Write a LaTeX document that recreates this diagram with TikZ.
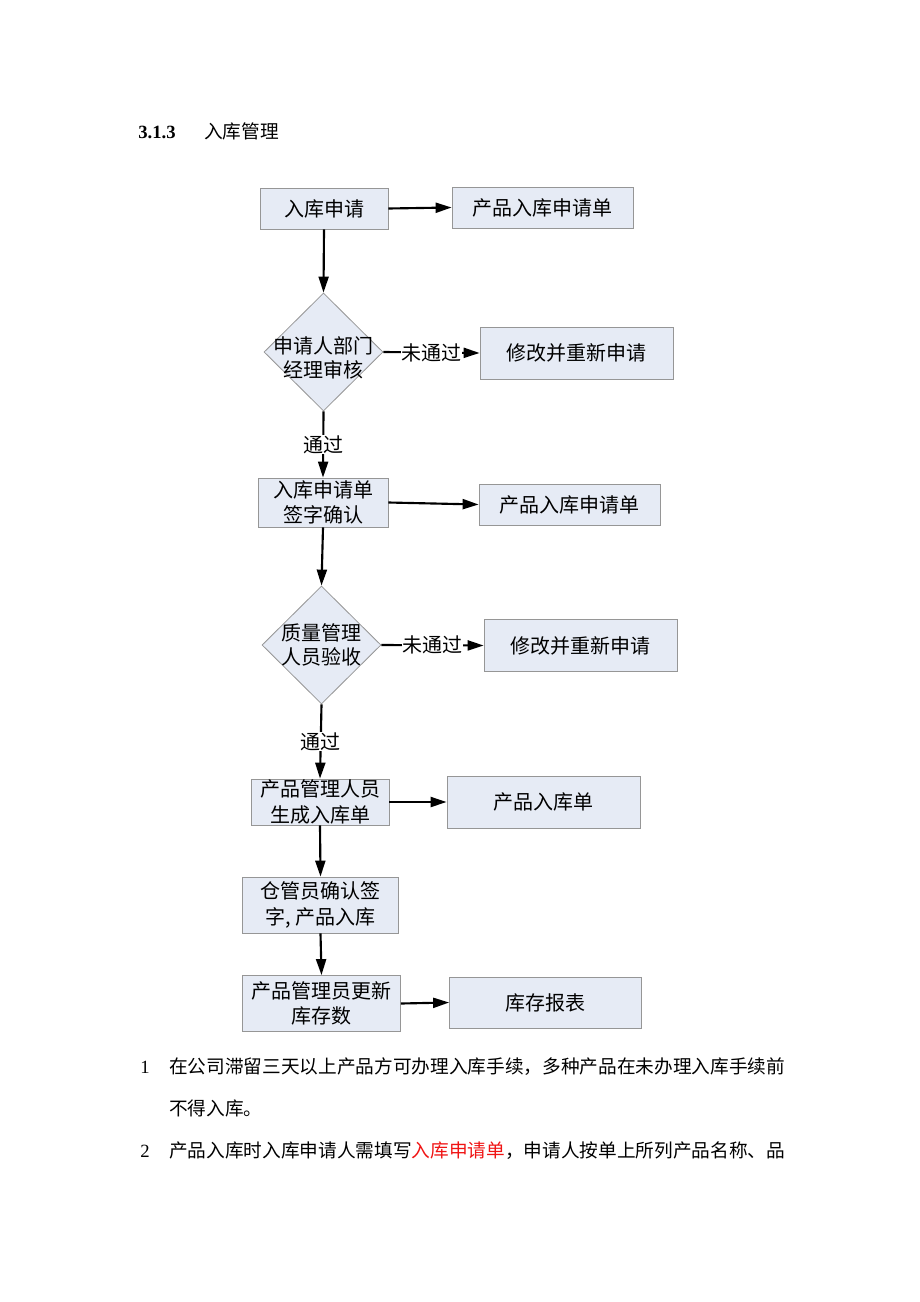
\documentclass[tikz,border=0pt]{standalone}
\usepackage{fontspec}
\setmainfont{Noto Sans CJK SC}
\newfontfamily\serifnum{Liberation Serif}
\usetikzlibrary{shapes.geometric,arrows.meta}
\definecolor{boxfill}{RGB}{230,235,245}
\definecolor{boxline}{RGB}{150,150,150}
\definecolor{redtxt}{RGB}{240,20,20}
\begin{document}
\begin{tikzpicture}[x=0.75pt,y=-0.75pt,
 box/.style={draw=boxline, fill=boxfill, line width=0.6pt, inner sep=0pt, align=center, font=\fontsize{15pt}{19pt}\selectfont},
 dia/.style={diamond, draw=boxline, fill=boxfill, line width=0.6pt, inner sep=0pt, minimum width=89.25pt, minimum height=88.5pt},
 dtext/.style={inner sep=0pt, align=center, font=\fontsize{15pt}{18pt}\selectfont},
 arr/.style={line width=1.6pt, -{Triangle[length=12pt,width=7.5pt]}},
 lbl/.style={fill=white, inner sep=0.5pt, font=\fontsize{15pt}{19pt}\selectfont},
 txt/.style={anchor=base west, inner sep=0pt, font=\fontsize{14pt}{17pt}\selectfont}
]
\useasboundingbox[fill=white] (0,0) rectangle (920,1302);

% heading
\node[txt] (hnum) at (138,138.5) {\serifnum\bfseries 3.1.3};
\node[txt] (htxt) at (204,138.5) {入库管理};

% boxes
\node[box, minimum width=96pt, minimum height=30.75pt] (b1) at (324,208.5) {入库申请};
\node[box, minimum width=135.75pt, minimum height=30.75pt] (o1) at (542.5,207.5) {产品入库申请单};
\node[dia] (d1) at (323.5,352) {};
\node[dtext] (d1t) at (323.5,358) {申请人部门\\经理审核};
\node[box, minimum width=144.75pt, minimum height=39pt] (r1) at (576.5,353) {修改并重新申请};
\node[box, minimum width=97.5pt, minimum height=36.75pt] (b2) at (323,502.5) {入库申请单\\签字确认};
\node[box, minimum width=135.75pt, minimum height=30.75pt] (o2) at (569.5,504.5) {产品入库申请单};
\node[dia] (d2) at (321.5,645) {};
\node[dtext] (d2t) at (321.5,645) {质量管理\\人员验收};
\node[box, minimum width=144.75pt, minimum height=39pt] (r2) at (580.5,645.5) {修改并重新申请};
\node[box, minimum width=103.5pt, minimum height=34.5pt] (b3) at (320,802) {产品管理人员\\生成入库单};
\node[box, minimum width=144.75pt, minimum height=39pt] (o3) at (543.5,802) {产品入库单};
\node[box, minimum width=117pt, minimum height=42pt] (b4) at (320.5,905) {仓管员确认签\\字, 产品入库};
\node[box, minimum width=118.5pt, minimum height=42pt] (b5) at (321.5,1003.5) {产品管理员更新\\库存数};
\node[box, minimum width=144pt, minimum height=38.25pt] (o4) at (545.5,1002.5) {库存报表};

% connectors
\draw[arr] (b1.east) -- (o1.west);
\draw[arr] (b1.south) -- (d1.north);
\draw[arr] (d1.east) -- node[lbl] {未通过} (r1.west);
\draw[arr] (d1.south) -- node[lbl] {通过} (b2.north);
\draw[arr] (b2.east) -- (o2.west);
\draw[arr] (b2.south) -- (d2.north);
\draw[arr] (d2.east) -- node[lbl] {未通过} (r2.west);
\draw[arr] (d2.south) -- node[lbl] {通过} (b3.north);
\draw[arr] (b3.east) -- (o3.west);
\draw[arr] (b3.south) -- (b4.north);
\draw[arr] (b4.south) -- (b5.north);
\draw[arr] (b5.east) -- (o4.west);

% body text
\node[txt] (n1) at (140,1073) {\serifnum 1};
\node[txt] (t1) at (169,1073) {在公司滞留三天以上产品方可办理入库手续，多种产品在未办理入库手续前};
\node[txt] (t2) at (169,1115) {不得入库。};
\node[txt] (n2) at (140,1157) {\serifnum 2};
\node[txt] (t3) at (169,1157) {产品入库时入库申请人需填写\textcolor{redtxt}{入库申请单}，申请人按单上所列产品名称、品};
\end{tikzpicture}
\end{document}
